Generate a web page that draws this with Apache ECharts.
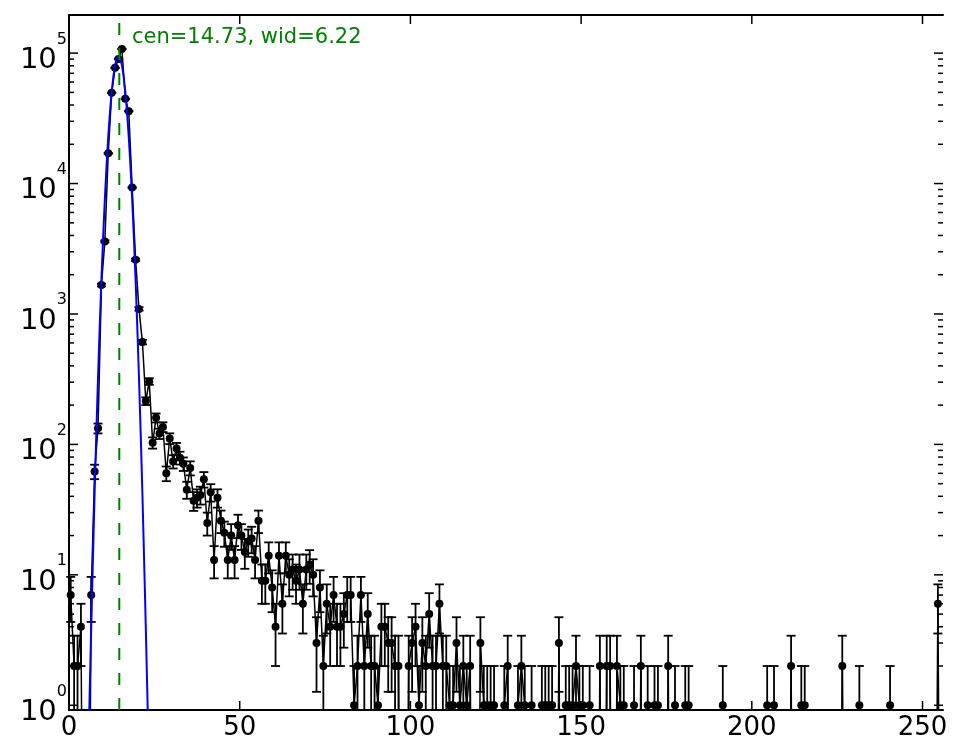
<!DOCTYPE html>
<html><head><meta charset="utf-8">
<script src="https://cdn.jsdelivr.net/npm/echarts@6/dist/echarts.min.js"></script>
<style>html,body{margin:0;padding:0;background:#fff}#c{width:965px;height:756px}</style>
</head><body><div id="c"></div>
<script>
// Histogram counts per bin (bins 0..255)
const counts = [
  7, 2, 2, 4, 0, 0, 7, 62, 133, 1668, 3600, 17050, 49700, 77100, 90300, 107600,
  44650, 35900, 9310, 2607, 1094, 609, 215, 304, 103, 160, 121, 136, 60, 111, 74, 93,
  79, 71, 45, 66, 37, 39, 41, 54, 25, 43, 13, 39, 26, 21, 13, 20,
  13, 24, 20, 15, 18, 19, 13, 26, 9, 9, 14, 8, 4, 14, 6, 14,
  10, 11, 9, 11, 6, 11, 12, 10, 3, 8, 2, 6, 4, 7, 4, 4,
  5, 7, 7, 1, 2, 7, 2, 5, 2, 2, 1, 4, 4, 3, 3, 2,
  2, 0, 0, 2, 3, 4, 1, 3, 2, 5, 2, 2, 6, 2, 2, 1,
  1, 3, 1, 2, 1, 2, 0, 0, 3, 1, 1, 1, 1, 0, 0, 1,
  2, 0, 0, 1, 2, 1, 0, 1, 0, 0, 1, 1, 1, 1, 0, 3,
  0, 1, 1, 1, 2, 1, 1, 0, 1, 0, 0, 2, 0, 2, 2, 0,
  2, 1, 1, 0, 0, 1, 0, 2, 0, 1, 0, 1, 1, 0, 0, 2,
  0, 1, 0, 0, 1, 1, 0, 0, 0, 0, 0, 0, 0, 0, 0, 1,
  0, 0, 0, 0, 0, 0, 0, 0, 0, 0, 0, 0, 1, 0, 1, 0,
  0, 0, 0, 2, 0, 0, 1, 1, 0, 0, 0, 0, 0, 0, 0, 0,
  0, 0, 2, 0, 0, 0, 0, 1, 0, 0, 0, 0, 0, 0, 0, 0,
  1, 0, 0, 0, 0, 0, 0, 0, 0, 0, 0, 0, 0, 0, 6, 0
];
// Fitted peak curve
const fitX = [5.8, 6.0, 6.5, 7.0, 7.5, 8.0, 8.5, 9.0, 9.5, 10.0, 10.5, 11.0, 11.5, 12.0, 12.5, 13.0, 13.5, 14.0, 14.5,
  15.0, 15.5, 16.0, 16.5, 17.0, 17.5, 18.0, 18.5, 19.0, 19.5, 20.0, 20.5, 21.0, 21.5, 22.0, 22.5, 23.0, 23.2];
const fitY = [0.62, 1.06, 3.9, 13, 42, 121, 324, 800, 1840, 3880, 7600, 13700, 22900, 35300, 50400, 66400, 80800, 91000, 94600,
  91000, 80800, 66400, 50400, 35300, 22900, 13700, 7600, 3880, 1840, 800, 324, 121, 42, 13, 3.9, 1.06, 0.62];
const fitCenter = 14.73;
const fitWidth = 6.22;
const xRange = [0, 256];
const yRange = [0.92, 1.96e5];
const xTickStep = 50;
const yDecades = [0, 1, 2, 3, 4, 5];

const FONT = 'DejaVu Sans';
const chart = echarts.init(document.getElementById('c'), null, {renderer: 'canvas'});

const pts = counts.map((v, i) => [i + 0.5, v]);
const lineData = pts.map(([x, v]) => v > 0 ? {value: [x, v]} : {value: [x, 1e-3], symbol: 'none'});
const errData = pts.filter(p => p[1] > 0).map(([x, v]) => [x, v, Math.sqrt(v)]);
const fitData = fitX.map((x, i) => [x, fitY[i]]);

// tick marks: [x, y, kind, side]  kind 0 = y major, 1 = y minor, 2 = x major ; side 0 = left/bottom, 1 = right/top
const tickData = [];
yDecades.forEach(k => {
  const vals = [[Math.pow(10, k), 0]];
  for (let m = 2; m <= 9; m++) {
    const v = m * Math.pow(10, k);
    if (v < yRange[1]) vals.push([v, 1]);
  }
  vals.forEach(([v, kind]) => { tickData.push([xRange[0], v, kind, 0]); tickData.push([xRange[1], v, kind, 1]); });
});
for (let x = xRange[0] + xTickStep; x < xRange[1]; x += xTickStep) {
  tickData.push([x, yRange[0], 2, 0]);
  tickData.push([x, yRange[1], 2, 1]);
}

const logFmt = v => {
  const e = Math.log10(v), r = Math.round(e);
  if (Math.abs(e - r) > 1e-6) return '';
  return '{b|10}{s|' + r + '}';
};

const axisLineStyle = {show: true, lineStyle: {color: '#000', width: 2}};

const option = {
  animation: false,
  backgroundColor: '#fff',
  title: {
    text: 'cen=' + fitCenter.toFixed(2) + ', wid=' + fitWidth.toFixed(2),
    left: 132, top: 27, padding: 0,
    textStyle: {fontFamily: FONT, fontSize: 21, fontWeight: 'normal', color: '#008000'}
  },
  grid: {left: 69, right: 22, top: 15, bottom: 46},
  xAxis: [
    {
      type: 'value', min: xRange[0], max: xRange[1], interval: xTickStep, position: 'bottom',
      axisLine: axisLineStyle, axisTick: {show: false}, splitLine: {show: false},
      axisLabel: {fontFamily: FONT, fontSize: 26, color: '#000', margin: 5, showMaxLabel: false,
        formatter: v => (v % xTickStep === 0 ? String(v) : '')}
    },
    {
      type: 'value', min: xRange[0], max: xRange[1], interval: xTickStep, position: 'top',
      axisLine: axisLineStyle, axisTick: {show: false}, splitLine: {show: false}, axisLabel: {show: false}
    }
  ],
  yAxis: [
    {
      type: 'log', logBase: 10, min: yRange[0], max: yRange[1], position: 'left',
      axisLine: axisLineStyle, axisTick: {show: false}, splitLine: {show: false},
      axisLabel: {
        color: '#000', margin: 2, formatter: logFmt, showMinLabel: true, showMaxLabel: true,
        rich: {
          b: {fontFamily: FONT, fontSize: 29, color: '#000', padding: [14.5, 0, 0, 0], verticalAlign: 'bottom'},
          s: {fontFamily: FONT, fontSize: 16, color: '#000', verticalAlign: 'top'}
        }
      }
    },
    {
      type: 'log', logBase: 10, min: yRange[0], max: yRange[1], position: 'right',
      axisLine: axisLineStyle, axisTick: {show: false}, splitLine: {show: false}, axisLabel: {show: false}
    }
  ],
  series: [
    {
      type: 'custom', xAxisIndex: 0, yAxisIndex: 0, z: 10,
      data: tickData, encode: {x: 0, y: 1},
      renderItem: (params, api) => {
        const kind = api.value(2), side = api.value(3);
        const p = api.coord([api.value(0), api.value(1)]);
        const st = {stroke: '#000', lineWidth: 1.5};
        if (kind === 2) {
          return {type: 'line', shape: {x1: p[0], y1: p[1], x2: p[0], y2: p[1] + (side === 0 ? -9 : 9)}, style: st};
        }
        const len = kind === 0 ? 9 : 5;
        return {type: 'line', shape: {x1: p[0], y1: p[1], x2: p[0] + (side === 0 ? len : -len), y2: p[1]}, style: st};
      }
    },
    {
      type: 'custom', xAxisIndex: 0, yAxisIndex: 0, z: 3,
      data: errData, encode: {x: 0, y: 1},
      renderItem: (params, api) => {
        const cs = params.coordSys;
        const top = cs.y, bottom = cs.y + cs.height;
        const x = api.value(0), v = api.value(1), e = api.value(2);
        const hiP = api.coord([x, v + e]);
        const px = hiP[0];
        let yHi = hiP[1];
        const capHi = yHi >= top;
        yHi = Math.max(yHi, top);
        let yLo = bottom, capLo = false;
        if (v - e > 0) {
          const loP = api.coord([x, v - e]);
          if (loP[1] <= bottom) { yLo = loP[1]; capLo = true; }
        }
        const st = {stroke: '#000', lineWidth: 1.8};
        const ch = [{type: 'line', shape: {x1: px, y1: yHi, x2: px, y2: yLo}, style: st}];
        if (capHi) ch.push({type: 'line', shape: {x1: px - 4.5, y1: yHi, x2: px + 4.5, y2: yHi}, style: st});
        if (capLo) ch.push({type: 'line', shape: {x1: px - 4.5, y1: yLo, x2: px + 4.5, y2: yLo}, style: st});
        return {type: 'group', children: ch};
      }
    },
    {
      type: 'line', xAxisIndex: 0, yAxisIndex: 0, z: 4,
      data: lineData, symbol: 'circle', symbolSize: 8, showAllSymbol: true, clip: true,
      lineStyle: {color: '#000', width: 1.5},
      itemStyle: {color: '#000', borderWidth: 0}
    },
    {
      type: 'line', xAxisIndex: 0, yAxisIndex: 0, z: 5,
      data: fitData, symbol: 'none', clip: true,
      lineStyle: {color: '#0000ff', width: 2}
    },
    {
      type: 'line', xAxisIndex: 0, yAxisIndex: 0, z: 6,
      data: [[fitCenter, yRange[0]], [fitCenter, yRange[1]]], symbol: 'none', clip: true,
      lineStyle: {color: '#008000', width: 2, type: [12, 13]}
    }
  ]
};
chart.setOption(option);
</script>
</body></html>
